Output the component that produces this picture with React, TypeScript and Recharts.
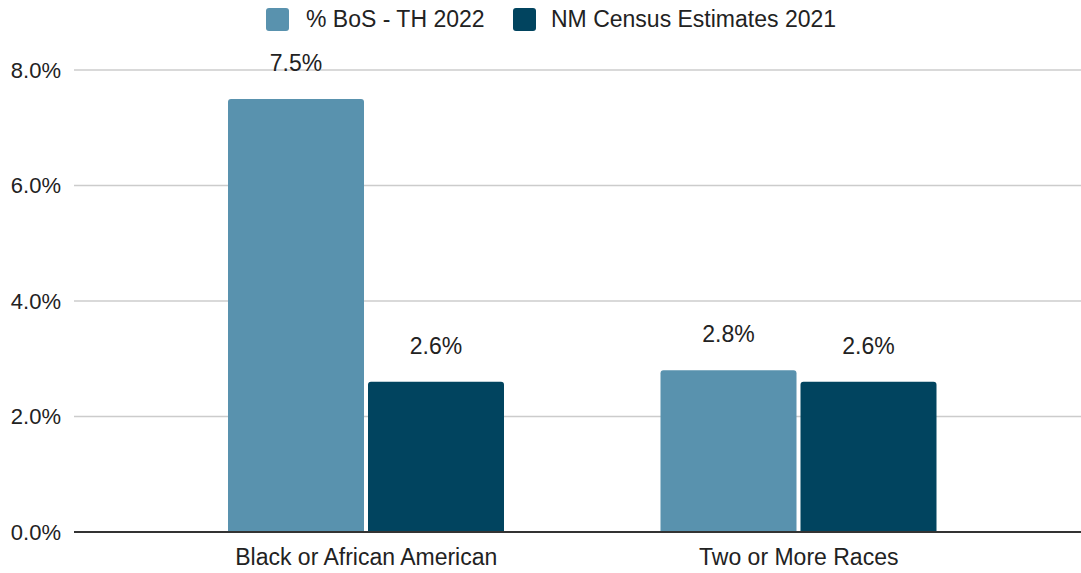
import { BarChart, Bar, XAxis, YAxis, CartesianGrid, Legend, LabelList } from "recharts"

const categories = ["Black or African American", "Two or More Races"]
const bosTh2022 = [7.5, 2.8]
const nmCensus2021 = [2.6, 2.6]
const yTicks = [0, 2, 4, 6, 8]

const seriesNames = ["% BoS - TH 2022", "NM Census Estimates 2021"]
const colors = ["#5992ae", "#01445f"]

const data = categories.map((name, i) => ({
  name,
  bos: bosTh2022[i],
  census: nmCensus2021[i],
}))

const font = "Arial, 'Liberation Sans', sans-serif"
const fs = 23
const pct = (v: number) => `${Number(v).toFixed(1)}%`

function LegendBox() {
  return (
    <div style={{ position: "relative", height: 40, fontFamily: font, fontSize: fs, color: "#222" }}>
      {seriesNames.map((s, i) => (
        <div key={s} style={{ position: "absolute", left: i === 0 ? 266 : 513, top: 0, display: "flex", alignItems: "center", height: 38 }}>
          <div style={{ width: 23, height: 23, background: colors[i], borderRadius: 3, marginRight: i === 0 ? 17 : 15 }} />
          <span>{s}</span>
        </div>
      ))}
    </div>
  )
}

export default function App() {
  return (
    <div style={{ position: "absolute", left: 0, top: 0 }}>
      <BarChart
        width={1081}
        height={573}
        data={data}
        margin={{ top: 70, right: 0, bottom: 0, left: 0 }}
        barCategoryGap="18%"
        barGap={4}
      >
        <CartesianGrid vertical={false} stroke="#cccccc" strokeWidth={1.5} />
        <Legend verticalAlign="top" height={0} content={<LegendBox />} wrapperStyle={{ top: 0, left: 0, width: 1081, height: 0 }} />
        <XAxis
          dataKey="name"
          padding={{ left: 76, right: 66 }}
          axisLine={{ stroke: "#333", strokeWidth: 2 }}
          tickLine={false}
          height={41}
          tick={{ fill: "#222", fontSize: fs, fontFamily: font }}
          tickMargin={11}
        />
        <YAxis
          domain={[0, 8]}
          ticks={yTicks}
          tickFormatter={pct}
          width={74}
          axisLine={false}
          tickLine={false}
          tick={{ fill: "#222", fontSize: 22, fontFamily: font }}
          tickMargin={7}
        />
        <Bar dataKey="bos" name={seriesNames[0]} fill={colors[0]} barSize={136} radius={[3, 3, 0, 0]} isAnimationActive={false}>
          <LabelList dataKey="bos" position="top" offset={28} formatter={pct} style={{ fill: "#222", fontSize: fs, fontFamily: font }} />
        </Bar>
        <Bar dataKey="census" name={seriesNames[1]} fill={colors[1]} barSize={136} radius={[3, 3, 0, 0]} isAnimationActive={false}>
          <LabelList dataKey="census" position="top" offset={28} formatter={pct} style={{ fill: "#222", fontSize: fs, fontFamily: font }} />
        </Bar>
      </BarChart>
    </div>
  )
}
